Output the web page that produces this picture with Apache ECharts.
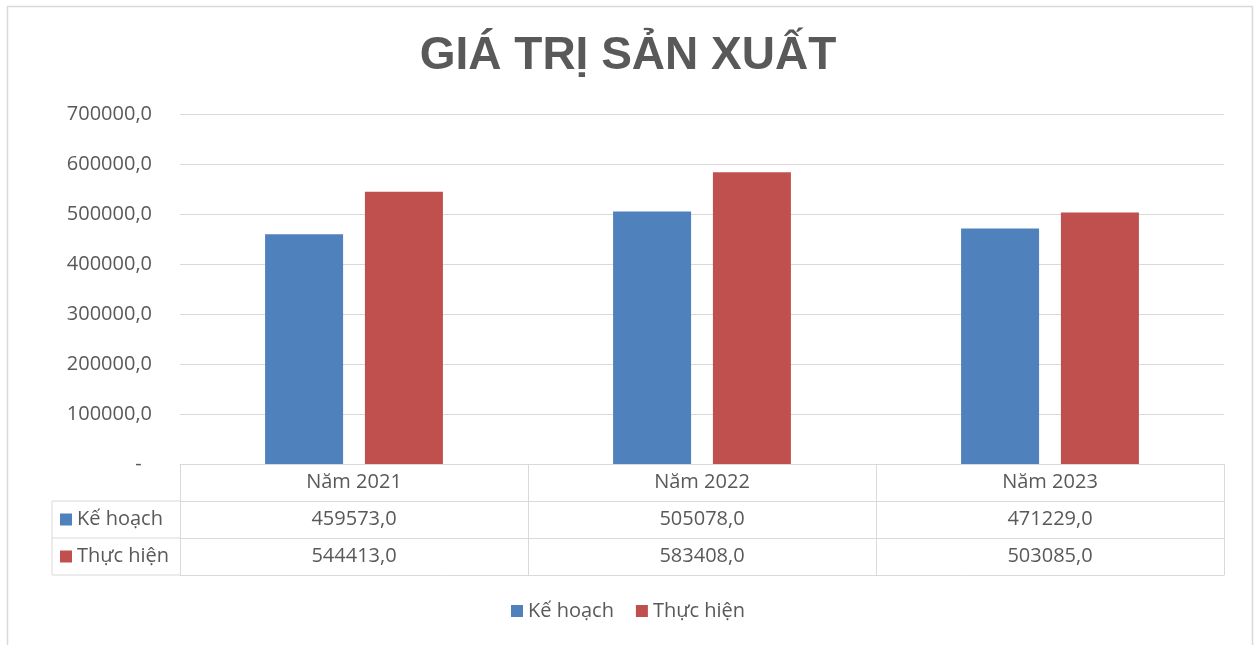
<!DOCTYPE html>
<html>
<head>
<meta charset="utf-8">
<script src="https://cdn.jsdelivr.net/npm/echarts@6/dist/echarts.min.js"></script>
<style>
html,body{margin:0;padding:0;background:#fff;}
#chart{width:1256px;height:645px;}
</style>
</head>
<body>
<div id="chart"></div>
<script>
const titleText = 'GIÁ TRỊ SẢN XUẤT';
const categories = ['Năm 2021', 'Năm 2022', 'Năm 2023'];
const seriesNames = ['Kế hoạch', 'Thực hiện'];
const planValues = [459573.0, 505078.0, 471229.0];
const actualValues = [544413.0, 583408.0, 503085.0];
const yTicks = [0, 100000, 200000, 300000, 400000, 500000, 600000, 700000];

const BLUE = '#4F81BD', RED = '#C0504D', TXT = '#595959', LINE = '#D9D9D9';
const FONT = '"Open Sans", "Noto Sans", sans-serif';
const FS = 20;
const fmt = v => v.toFixed(1).replace('.', ',');

const gridL = 180, gridR = 1224, gridT = 114, gridB = 464;
const rowH = 37;
const tableL = 52;

const chart = echarts.init(document.getElementById('chart'));

const rowHeaderGraphics = [];
[1, 2, 3].forEach(k => {
  rowHeaderGraphics.push({
    type: 'line', silent: true,
    shape: {x1: tableL, y1: gridB + rowH * k, x2: gridL, y2: gridB + rowH * k},
    style: {stroke: LINE, lineWidth: 1}
  });
});
rowHeaderGraphics.push({
  type: 'line', silent: true,
  shape: {x1: tableL, y1: gridB + rowH, x2: tableL, y2: gridB + rowH * 3},
  style: {stroke: LINE, lineWidth: 1}
});
[BLUE, RED].forEach((c, i) => {
  const cy = gridB + rowH * (i + 1) + rowH / 2;
  rowHeaderGraphics.push({
    type: 'rect', silent: true,
    shape: {x: 60, y: cy - 6, width: 12, height: 12},
    style: {fill: c}
  });
  rowHeaderGraphics.push({
    type: 'text', silent: true,
    x: 77, y: cy,
    style: {text: seriesNames[i], fill: TXT, font: FS + 'px ' + FONT, textVerticalAlign: 'middle', verticalAlign: 'middle'}
  });
});

const option = {
  backgroundColor: '#fff',
  animation: false,
  title: {
    text: titleText,
    left: 'center',
    top: 28,
    padding: [5, 0, 5, 8],
    textStyle: {fontFamily: '"Liberation Sans", Arial, sans-serif', fontWeight: 'bold', fontSize: 46, color: TXT}
  },
  legend: {
    data: seriesNames,
    top: 596,
    left: 'center',
    icon: 'rect',
    itemWidth: 12,
    itemHeight: 12,
    itemGap: 22,
    textStyle: {color: TXT, fontSize: FS, fontFamily: FONT}
  },
  grid: {left: gridL, right: 1256 - gridR, top: gridT, bottom: 645 - gridB, containLabel: false},
  xAxis: [
    {
      type: 'category', data: categories, position: 'bottom',
      axisLine: {show: true, lineStyle: {color: LINE, width: 1}},
      axisTick: {show: true, length: rowH * 3, interval: 0, lineStyle: {color: LINE, width: 1}},
      axisLabel: {color: TXT, fontSize: FS, fontFamily: FONT, margin: 8}
    },
    {
      type: 'category', data: categories, position: 'bottom', offset: rowH,
      axisLine: {show: true, lineStyle: {color: LINE, width: 1}},
      axisTick: {show: false},
      axisLabel: {color: TXT, fontSize: FS, fontFamily: FONT, margin: 8, formatter: (v, i) => fmt(planValues[i])}
    },
    {
      type: 'category', data: categories, position: 'bottom', offset: rowH * 2,
      axisLine: {show: true, lineStyle: {color: LINE, width: 1}},
      axisTick: {show: false},
      axisLabel: {color: TXT, fontSize: FS, fontFamily: FONT, margin: 8, formatter: (v, i) => fmt(actualValues[i])}
    },
    {
      type: 'category', data: categories, position: 'bottom', offset: rowH * 3,
      axisLine: {show: true, lineStyle: {color: LINE, width: 1}},
      axisTick: {show: false},
      axisLabel: {show: false}
    }
  ],
  yAxis: {
    type: 'value',
    min: yTicks[0],
    max: yTicks[yTicks.length - 1],
    interval: yTicks[1] - yTicks[0],
    axisLine: {show: false},
    axisTick: {show: false},
    splitLine: {show: true, lineStyle: {color: LINE, width: 1}},
    axisLabel: {
      color: TXT, fontSize: FS, fontFamily: FONT, margin: 28,
      formatter: v => v === 0 ? '-  ' : fmt(v)
    }
  },
  series: [
    {
      name: seriesNames[0], type: 'bar', xAxisIndex: 0, data: planValues,
      itemStyle: {color: BLUE}, barWidth: 78, barGap: '28%'
    },
    {
      name: seriesNames[1], type: 'bar', xAxisIndex: 0, data: actualValues,
      itemStyle: {color: RED}, barWidth: 78, barGap: '28%'
    }
  ],
  graphic: [
    {
      type: 'rect', silent: true, z: -10,
      shape: {x: 7.5, y: 6.5, width: 1245, height: 660},
      style: {fill: 'none', stroke: LINE, lineWidth: 1.5}
    }
  ].concat(rowHeaderGraphics)
};

chart.setOption(option);
</script>
</body>
</html>
